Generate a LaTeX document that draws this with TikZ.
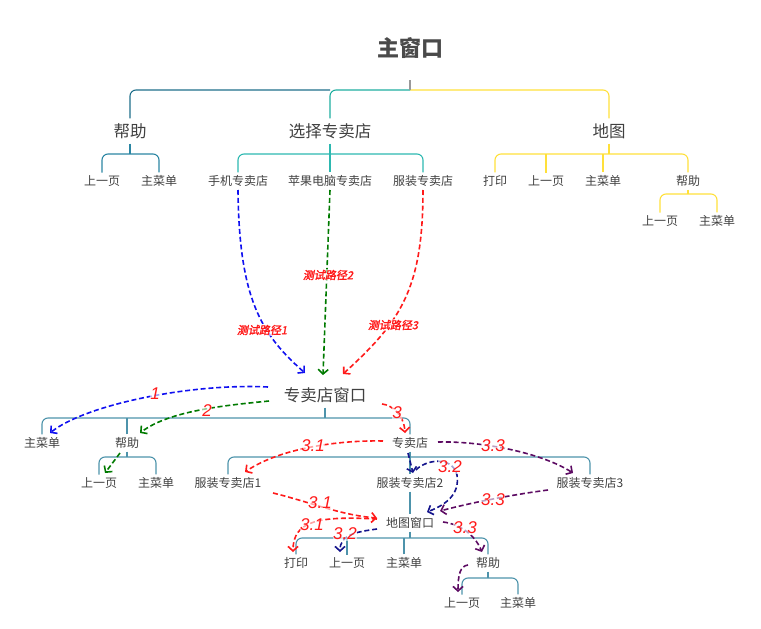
\documentclass[tikz,border=0pt]{standalone}
\usepackage{fontspec}
\setmainfont{Noto Sans CJK SC}
\newfontfamily\labfont{Liberation Sans}
\newfontfamily\cjksl{Noto Sans CJK SC}[FakeSlant=0.2,FakeBold=1.8]
\usetikzlibrary{arrows.meta}
\definecolor{txt}{HTML}{404040}
\definecolor{txtm}{HTML}{4A4A4A}
\definecolor{topL}{HTML}{1F6F8B}
\definecolor{topM}{HTML}{1FAE9F}
\definecolor{topY}{HTML}{FFE03A}
\definecolor{selc}{HTML}{2DB8B0}
\definecolor{helpc}{HTML}{2B86A3}
\definecolor{lowc}{HTML}{4D93AB}
\definecolor{stemc}{HTML}{999999}
\definecolor{cblue}{HTML}{1010F0}
\definecolor{cgreen}{HTML}{007A00}
\definecolor{cred}{HTML}{FF1A1A}
\definecolor{cnavy}{HTML}{14148C}
\definecolor{cpurp}{HTML}{5C0A62}
\begin{document}
\begin{tikzpicture}[x=1pt,y=-1pt,
  lvz/.style={font=\bfseries\fontsize{22}{26}\selectfont, text=txtm, inner sep=1pt},
  lva/.style={font=\fontsize{16.5}{19}\selectfont, text=txt, inner sep=1pt, outer sep=4pt},
  lvb/.style={font=\fontsize{12}{14}\selectfont, text=txt, inner sep=1pt, outer sep=2pt},
  brk/.style={line width=1.1pt, rounded corners=6pt},
  ln/.style={line width=1.1pt},
  darr/.style={dash pattern=on 5pt off 2.8pt, line width=1.6pt, -{Straight Barb[length=4.5pt,width=10pt]}},
  numl/.style={font=\labfont\itshape\fontsize{17}{19}\selectfont, text=cred, fill=white, fill opacity=0.6, text opacity=1, inner sep=0.5pt},
  tlab/.style={font=\cjksl\fontsize{11}{13}\selectfont, text=cred, fill=white, fill opacity=0.6, text opacity=1, inner sep=0.5pt}]
\useasboundingbox (0,0) rectangle (761,629);
% ---------- nodes ----------
\node[lvz] (m) at (410,48) {主窗口};
\node[lva] (a1) at (130,131) {帮助};
\node[lva] (a2) at (330,131) {选择专卖店};
\node[lva] (a3) at (609,131) {地图};
\node[lvb] (b1) at (102,181) {上一页};
\node[lvb] (b2) at (159,181) {主菜单};
\node[lvb] (b3) at (238,181) {手机专卖店};
\node[lvb] (b4) at (330,181) {苹果电脑专卖店};
\node[lvb] (b5) at (423,181) {服装专卖店};
\node[lvb] (b6) at (495,181) {打印};
\node[lvb] (b7) at (546,181) {上一页};
\node[lvb] (b8) at (603,181) {主菜单};
\node[lvb] (b9) at (688,181) {帮助};
\node[lvb] (c1) at (660,221) {上一页};
\node[lvb] (c2) at (717,221) {主菜单};
\node[lva] (sw) at (325,395) {专卖店窗口};
\node[lvb] (d1) at (42,443) {主菜单};
\node[lvb] (d2) at (127,443) {帮助};
\node[lvb] (d3) at (410,443) {专卖店};
\node[lvb] (e1) at (99,483) {上一页};
\node[lvb] (e2) at (156,483) {主菜单};
\node[lvb] (e3) at (228,483) {服装专卖店1};
\node[lvb] (e4) at (410,483) {服装专卖店2};
\node[lvb] (e5) at (590,483) {服装专卖店3};
\node[lvb] (mw) at (410,523) {地图窗口};
\node[lvb] (f1) at (296,563) {打印};
\node[lvb] (f2) at (347,563) {上一页};
\node[lvb] (f3) at (404,563) {主菜单};
\node[lvb] (f4) at (488,563) {帮助};
\node[lvb] (g1) at (462,603) {上一页};
\node[lvb] (g2) at (518,603) {主菜单};
% ---------- levels ----------
\coordinate (h0) at (0,90);
\coordinate (m0) at (410,80);
\coordinate (h1) at (0,154);
\coordinate (h2) at (0,194);
\coordinate (h3) at (0,418);
\coordinate (h4) at (0,457);
\coordinate (h5) at (0,538);
\coordinate (h6) at (0,578);
% ---------- brackets ----------
\draw[brk,topY] (m0 |- h0) -| (a3.north);
\draw[brk,topM] (m0 |- h0) -| (a2.north);
\draw[brk,topL] (a1.north) |- (a2.north |- h0);
\draw[ln,stemc] (m0) -- (m0 |- h0);
\draw[brk,helpc] (b1.north) |- (b2.north |- h1) -- (b2.north);
\draw[ln,helpc] (a1.south) -- (a1.south |- h1);
\draw[brk,selc] (b3.north) |- (b5.north |- h1) -- (b5.north);
\draw[ln,selc] (a2.south) -- (b4.north);
\draw[brk,topY] (b6.north) |- (b9.north |- h1) -- (b9.north);
\draw[ln,topY] (b7.north) -- (b7.north |- h1);
\draw[ln,topY] (b8.north) -- (b8.north |- h1);
\draw[ln,topY] (a3.south) -- (a3.south |- h1);
\draw[brk,topY] (c1.north) |- (c2.north |- h2) -- (c2.north);
\draw[ln,topY] (b9.south) -- (b9.south |- h2);
\draw[brk,lowc] (d1.north) |- (d3.north |- h3) -- (d3.north);
\draw[ln,lowc] (d2.north) -- (d2.north |- h3);
\draw[ln,lowc] (sw.south) -- (sw.south |- h3);
\draw[brk,lowc] (e1.north) |- (e2.north |- h4) -- (e2.north);
\draw[ln,lowc] (d2.south) -- (d2.south |- h4);
\draw[brk,lowc] (e3.north) |- (e5.north |- h4) -- (e5.north);
\draw[ln,lowc] (d3.south) -- (e4.north);
\draw[ln,lowc] (e4.south) -- (mw.north);
\draw[brk,lowc] (f1.north) |- (f4.north |- h5) -- (f4.north);
\draw[ln,lowc] (f2.north) -- (f2.north |- h5);
\draw[ln,lowc] (f3.north) -- (f3.north |- h5);
\draw[ln,lowc] (mw.south) -- (mw.south |- h5);
\draw[brk,lowc] (g1.north) |- (g2.north |- h6) -- (g2.north);
\draw[ln,lowc] (f4.south) -- (f4.south |- h6);
% ---------- test paths ----------
\draw[darr,cblue] ([shift={(0,9)}]b3.center) .. controls (239,300) and (262,335) .. ([shift={(-20,-22)}]sw.center);
\draw[darr,cgreen] ([shift={(0,9)}]b4.center) -- ([shift={(-2,-20)}]sw.center);
\draw[darr,cred] ([shift={(0,9)}]b5.center) .. controls (423,290) and (400,322) .. ([shift={(18,-21)}]sw.center);
\draw[darr,cblue] ([shift={(-57,-8)}]sw.center) .. controls (190,383) and (85,405) .. ([shift={(8,-10)}]d1.center);
\draw[darr,cgreen] ([shift={(-56,6)}]sw.center) .. controls (230,405) and (170,410) .. ([shift={(13,-10)}]d2.center);
\draw[darr,cgreen] ([shift={(-7,10)}]d2.center) -- ([shift={(6,-10)}]e1.center);
\draw[darr,cred] ([shift={(57,9)}]sw.center) .. controls (392,405) and (404,415) .. ([shift={(-5,-10)}]d3.center);
\draw[darr,cred] ([shift={(-27,-2)}]d3.center) .. controls (340,440) and (280,448) .. ([shift={(17,-11)}]e3.center);
\draw[darr,cnavy] ([shift={(-2,10)}]d3.center) -- ([shift={(3,-10)}]e4.center);
\draw[darr,cnavy] ([shift={(6,-13)}]e4.center) .. controls (425,460) and (452,455) .. (457,475) .. controls (460,495) and (445,505) .. ([shift={(17,-11)}]mw.center);
\draw[darr,cpurp] ([shift={(28,-1)}]d3.center) .. controls (480,441) and (540,452) .. ([shift={(-17,-10)}]e5.center);
\draw[darr,cpurp] ([shift={(-42,7)}]e5.center) .. controls (510,495) and (470,503) .. ([shift={(30,-12)}]mw.center);
\draw[darr,cred] ([shift={(45,10)}]e3.center) .. controls (310,502) and (340,515) .. ([shift={(-33,-5)}]mw.center);
\draw[darr,cred] ([shift={(-33,-4)}]mw.center) .. controls (320,516) and (293,520) .. ([shift={(-3,-11)}]f1.center);
\draw[darr,cnavy] ([shift={(-33,6)}]mw.center) .. controls (355,532) and (340,535) .. ([shift={(-7,-11)}]f2.center);
\draw[darr,cpurp] ([shift={(33,-1)}]mw.center) .. controls (460,524) and (475,535) .. ([shift={(-6,-11)}]f4.center);
\draw[darr,cpurp] ([shift={(-20,2)}]f4.center) .. controls (460,566) and (458,575) .. ([shift={(-4,-11)}]g1.center);
% ---------- labels ----------
\node[tlab] (L1) at (262,330) {测试路径1};
\node[tlab] (L2) at (328,275) {测试路径2};
\node[tlab] (L3) at (393,325) {测试路径3};
\node[numl] (n1) at (155,394) {1};
\node[numl] (n2) at (207,411) {2};
\node[numl] (n3) at (397,413) {3};
\node[numl] (n31a) at (313,446) {3.1};
\node[numl] (n32a) at (450,467) {3.2};
\node[numl] (n33a) at (493,446) {3.3};
\node[numl] (n33b) at (493,500) {3.3};
\node[numl] (n31b) at (320,503) {3.1};
\node[numl] (n31c) at (312,525) {3.1};
\node[numl] (n32c) at (345,534) {3.2};
\node[numl] (n33c) at (465,528) {3.3};
\end{tikzpicture}
\end{document}
